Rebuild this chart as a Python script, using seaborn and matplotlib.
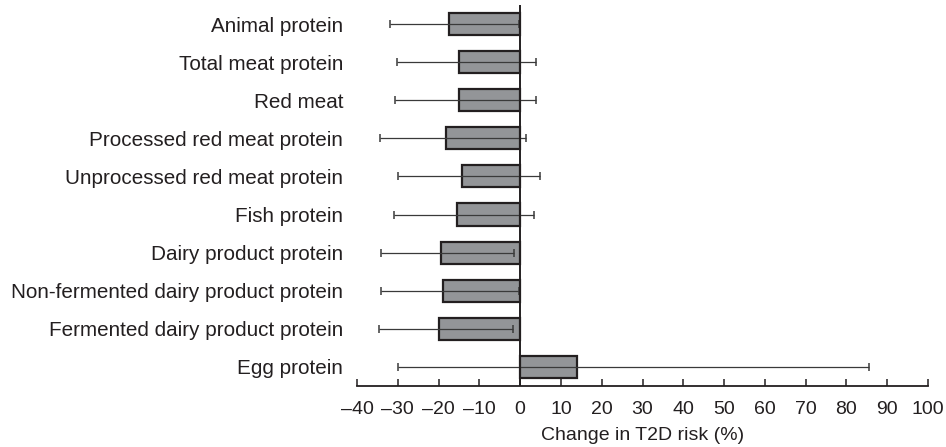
import numpy as np
import pandas as pd
import matplotlib
matplotlib.use('Agg')
import matplotlib.pyplot as plt
import seaborn as sns

# ── Data ───────────────────────────────────────────────────────────────────
categories = [
    'Animal protein',
    'Total meat protein',
    'Red meat',
    'Processed red meat protein',
    'Unprocessed red meat protein',
    'Fish protein',
    'Dairy product protein',
    'Non-fermented dairy product protein',
    'Fermented dairy product protein',
    'Egg protein',
]
change = [-17.5, -14.9, -15.1, -18.3, -14.2, -15.4, -19.5, -18.9, -19.9, 14.0]
ci_low = [-31.9, -30.2, -30.6, -34.4, -29.9, -31.0, -34.2, -34.0, -34.7, -30.0]
ci_high = [-0.3, 3.9, 3.8, 1.5, 4.9, 3.4, -1.5, -0.2, -1.7, 85.6]
xticks = list(range(-40, 101, 10))

# ── Style ──────────────────────────────────────────────────────────────────
BAR = '#939598'
EDGE = '#231f20'
sns.set_theme(style='white')
plt.rcParams['font.family'] = ['Liberation Sans', 'DejaVu Sans']

df = pd.DataFrame({'category': categories, 'change': change})

fig = plt.figure(figsize=(9.46, 4.47), dpi=100)
ax = fig.add_axes([0.3774, 0.1365, 0.6036, 0.8523])

sns.barplot(data=df, x='change', y='category', orient='h', color=BAR,
            edgecolor=EDGE, linewidth=1.6, width=0.58, saturation=1, ax=ax)

ypos = np.arange(len(categories))
err = [np.array(change) - np.array(ci_low), np.array(ci_high) - np.array(change)]
ax.errorbar(change, ypos, xerr=err, fmt='none', ecolor='#3a3a3a',
            elinewidth=0.9, capsize=2.6, capthick=1.1, zorder=3)

ax.axvline(0, color=EDGE, lw=1.4, zorder=4)

ax.set_xlim(-40, 100)
ax.set_ylim(len(categories) - 0.5, -0.5)
ax.set_xticks(xticks)
ax.set_xticklabels([f'{t}'.replace('-', '\u2013') for t in xticks])
ax.set_xlabel('Change in T2D risk (%)', fontsize=14, color='#231f20', labelpad=6)
ax.set_ylabel('')

for s in ['top', 'right', 'left']:
    ax.spines[s].set_visible(False)
ax.spines['bottom'].set_color(EDGE)
ax.spines['bottom'].set_linewidth(1.3)
ax.tick_params(axis='x', bottom=True, direction='in', length=5, width=1.1,
               color=EDGE, labelsize=14, labelcolor='#231f20', pad=11)
ax.tick_params(axis='y', left=False, length=0, labelsize=14.9,
               labelcolor='#231f20', pad=10)
ax.margins(x=0)

fig.savefig('out.png', dpi=100)
